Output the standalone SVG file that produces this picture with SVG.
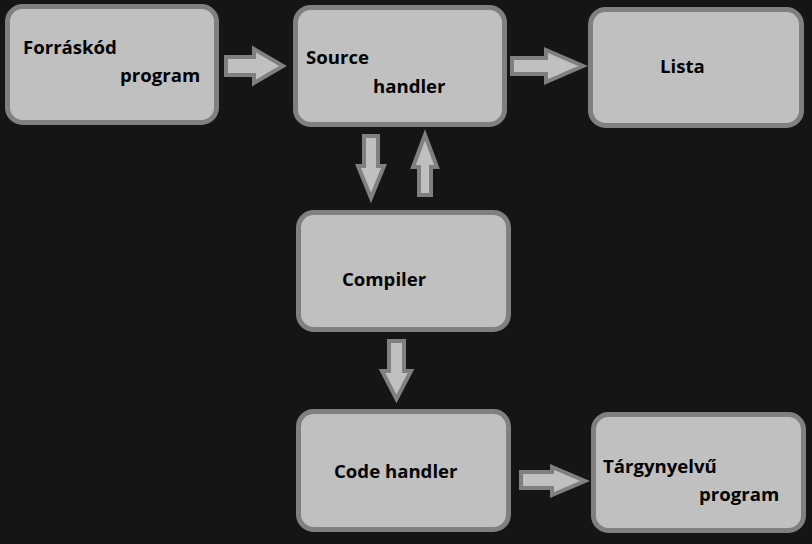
<svg xmlns="http://www.w3.org/2000/svg" width="812" height="544" viewBox="0 0 812 544">
<style>
.box{fill:#c0c0c0;stroke:#808080;stroke-width:5}
.arr{fill:#c0c0c0;stroke:#808080;stroke-width:4;stroke-linejoin:miter}
text{font-family:"Open Sans","DejaVu Sans",sans-serif;font-weight:bold;font-size:18.6px;fill:#000}
</style>
<rect width="812" height="544" fill="#151515"/>
<g id="forraskod"><rect class="box" x="7.5" y="6.5" width="209" height="116" rx="15"/><text x="23" y="54">Forráskód</text><text x="120" y="82">program</text></g>
<g id="source"><rect class="box" x="295.5" y="7.5" width="209" height="117" rx="15"/><text x="306" y="64">Source</text><text x="373" y="93">handler</text></g>
<g id="lista"><rect class="box" x="590.5" y="9.5" width="211" height="116" rx="15"/><text x="660" y="73">Lista</text></g>
<g id="compiler"><rect class="box" x="298.5" y="212.5" width="210" height="117" rx="15"/><text x="342" y="286">Compiler</text></g>
<g id="code"><rect class="box" x="298.5" y="411.5" width="210" height="118" rx="15"/><text x="334" y="478">Code handler</text></g>
<g id="targy"><rect class="box" x="593.5" y="414.5" width="210" height="116" rx="15"/><text x="603" y="473">Tárgynyelvű</text><text x="699" y="501">program</text></g>
<g id="connectors">
<polygon class="arr" points="226,57 254,57 254,49 283,66 254,83 254,75 226,75"/>
<polygon class="arr" points="512,58 546,58 546,50 583,66 546,82 546,74 512,74"/>
<polygon class="arr" points="364,136 378,136 378,166 384,166 371,198 358,166 364,166"/>
<polygon class="arr" points="419,195 431,195 431,167 437,167 425,135 413,167 419,167"/>
<polygon class="arr" points="389,341 404,341 404,371 411,371 396.5,399 382,371 389,371"/>
<polygon class="arr" points="521,472 552,472 552,467 585,481 552,495 552,488 521,488"/>
</g>
</svg>
